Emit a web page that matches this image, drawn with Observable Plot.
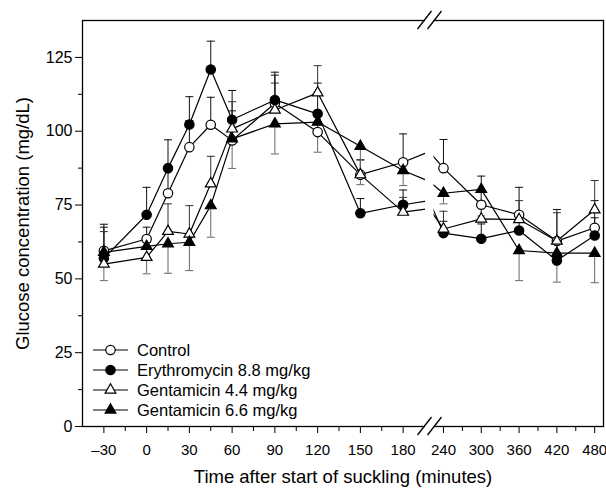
<!DOCTYPE html>
<html><head><meta charset="utf-8">
<script src="https://cdn.jsdelivr.net/npm/d3@7"></script>
<script src="https://cdn.jsdelivr.net/npm/@observablehq/plot@0.6"></script>
<style>
body{margin:0;background:#fff;}
#chart svg{font-family:"Liberation Sans",Arial,sans-serif;}
</style>
</head><body><div id="chart"></div>
<script>
// ---- data (minutes after start of suckling) ----
const times = [-30, 0, 15, 30, 45, 60, 90, 120, 150, 180, 210, 240, 300, 360, 420, 480];
const seriesNames = ["Control", "Erythromycin 8.8 mg/kg", "Gentamicin 4.4 mg/kg", "Gentamicin 6.6 mg/kg"];
// glucose (mg/dL); the 210-min value lies inside the axis break
const control = [59.5, 63.5, 79, 94.6, 102.2, 96.9, 109.5, 99.7, 85.3, 89.5, 93.1, 87.5, 75.1, 71.7, 62.8, 67.3];
const erythro = [57, 71.7, 87.5, 102.3, 120.9, 103.9, 110.6, 105.9, 72.2, 75.1, 76.5, 65.5, 63.6, 66.4, 56.2, 64.7];
const gent44  = [55, 57.3, 66.1, 65.2, 82.2, 100.8, 107.2, 113, 85.3, 72.6, 73.8, 66.9, 70.3, 70.1, 62.8, 73.4];
const gent66  = [59, 61, 61.9, 62.4, 74.8, 97.4, 102.5, 103.1, 94.9, 86.7, 83, 79, 80.3, 59.6, 58.7, 58.7];
// standard errors (drawn upward for the first three groups, downward for Gentamicin 6.6)
const controlSE = [9, 4, 8, 9, 9.3, 10, 9.5, 7, 5, 9.6, 0, 9.7, 9.7, 9.3, 10.7, 9.2];
const erythroSE = [10.5, 9.3, 9.6, 9.4, 9.6, 9.9, 9.4, 10.4, 5, 5, 0, 4, 5, 6, 6, 6];
const gent44SE  = [11, 5, 9.3, 9.6, 9.3, 9.2, 9.1, 9.2, 5, 5, 0, 6, 6, 6.4, 9.6, 9.9];
const gent66SE  = [9.6, 9.3, 10, 9.6, 10.7, 10, 10.2, 10.2, 13, 5.1, 0, 3.6, 9, 10.2, 9.8, 10];
const xTicksMajor = [-30, 0, 30, 60, 90, 120, 150, 180, 240, 300, 360, 420, 480];
const xTicksMinor = [-15, 15, 45, 75, 105, 135, 165, 270, 330, 390, 450];
const yTicksMajor = [0, 25, 50, 75, 100, 125];
const yTicksMinor = [12.5, 37.5, 62.5, 87.5, 112.5];
const breakFrom = 195, breakTo = 225;

const values = [control, erythro, gent44, gent66];
const ses = [controlSE, erythroSE, gent44SE, gent66SE];
const styles = [
  {symbol: "circle", fill: "white", r: 4.7, err: "#111", dir: 1},
  {symbol: "circle", fill: "black", r: 4.7, err: "#111", dir: 1},
  {symbol: "triangle", fill: "white", r: 4.0, err: "#333", dir: 1},
  {symbol: "triangle", fill: "black", r: 4.0, err: "#666", dir: -1}
];
const rows = values.map((vals, s) => times.map((t, i) => ({series: seriesNames[s], t, v: vals[i], se: ses[s][i]})));

const W = 606, H = 489, mL = 82, mR = 3, mT = 20, mB = 63;
// piecewise x: left segment and right segment with a break between
const leftPx = 1.425, rightPx = 0.63;
const xA = mL + (breakFrom + 45) * leftPx;
const xB = (W - mR) - (494 - breakTo) * rightPx;

const cap = {draw(ctx) { ctx.moveTo(-4, 0); ctx.lineTo(4, 0); }};

function breakMark(index, scales) {
  const x = scales.x;
  const g = d3.create("svg:g");
  const a = x(breakFrom), b = x(breakTo);
  const top = mT, bottom = H - mB;
  g.append("rect").attr("x", a + 1).attr("y", top - 3).attr("width", b - a - 1).attr("height", bottom - top + 6).attr("fill", "white");
  for (const cy of [top, bottom]) for (const cx of [a + 0.5, b + 1]) {
    g.append("line").attr("x1", cx - 7).attr("y1", cy + 9).attr("x2", cx + 7).attr("y2", cy - 9)
      .attr("stroke", "black").attr("stroke-width", 1.3);
  }
  return g.node();
}

function legendMark() {
  const g = d3.create("svg:g");
  const x0 = mL + 11, y0 = H - mB - 76, step = 20;
  seriesNames.forEach((name, i) => {
    const y = y0 + i * step;
    g.append("line").attr("x1", x0).attr("x2", x0 + 35).attr("y1", y).attr("y2", y).attr("stroke", "black").attr("stroke-width", 1.2);
    const st = styles[i];
    const sym = st.symbol === "circle" ? d3.symbolCircle : d3.symbolTriangle;
    g.append("path").attr("d", d3.symbol(sym, st.r * st.r * Math.PI)())
      .attr("transform", `translate(${x0 + 17.5},${y})`).attr("fill", st.fill).attr("stroke", "black").attr("stroke-width", 1.2);
    g.append("text").attr("x", x0 + 44).attr("y", y).attr("dy", "0.35em").attr("text-anchor", "start")
      .attr("font-size", 16.5).attr("fill", "black").text(name);
  });
  return g.node();
}

const marks = [];
rows.forEach((r, s) => {
  const pts = r.filter(d => d.t !== 210);
  const dir = styles[s].dir;
  marks.push(Plot.ruleX(pts, {x: "t", y1: "v", y2: d => d.v + dir * d.se, stroke: styles[s].err, strokeWidth: 1}));
  marks.push(Plot.dot(pts, {x: "t", y: d => d.v + dir * d.se, symbol: cap, stroke: styles[s].err, strokeWidth: 1}));
});
rows.forEach((r) => {
  marks.push(Plot.line(r, {x: "t", y: "v", stroke: "black", strokeWidth: 1.2}));
});
rows.forEach((r, s) => {
  const pts = r.filter(d => d.t !== 210);
  marks.push(Plot.dot(pts, {x: "t", y: "v", symbol: styles[s].symbol, r: styles[s].r, fill: styles[s].fill, stroke: "black", strokeWidth: 1.2}));
});

const chart = Plot.plot({
  width: W, height: H,
  marginLeft: mL, marginRight: mR, marginTop: mT, marginBottom: mB,
  style: {fontSize: "15px", fontFamily: "'Liberation Sans', Arial, sans-serif", color: "black", background: "white"},
  x: {type: "linear", domain: [-45, breakFrom, breakTo, 494], range: [mL, xA, xB, W - mR]},
  y: {domain: [0, 137.5]},
  marks: [
    ...marks,
    Plot.frame({stroke: "black", strokeWidth: 1.3}),
    breakMark,
    Plot.axisX({ticks: xTicksMajor, tickSize: 7, tickPadding: 11, fontSize: 15, tickFormat: d => d < 0 ? "\u2013" + Math.abs(d) : String(d), label: null}),
    Plot.axisX({ticks: xTicksMinor, tickSize: 5, tickFormat: () => "", label: null}),
    Plot.axisY({ticks: yTicksMajor, tickSize: 7, tickPadding: 3, fontSize: 16, tickFormat: d => String(d), label: null}),
    Plot.axisY({ticks: yTicksMinor, tickSize: 4, tickFormat: () => "", label: null}),
    Plot.text(["Time after start of suckling (minutes)"], {frameAnchor: "bottom", dy: 51, lineAnchor: "middle", textAnchor: "middle", fontSize: 18.5, text: d => d, fill: "black"}),
    Plot.text(["Glucose concentration (mg/dL)"], {frameAnchor: "left", dx: -59, rotate: -90, lineAnchor: "middle", textAnchor: "middle", fontSize: 18.5, text: d => d, fill: "black"}),
    legendMark
  ]
});
document.getElementById("chart").appendChild(chart);
</script>
</body></html>
